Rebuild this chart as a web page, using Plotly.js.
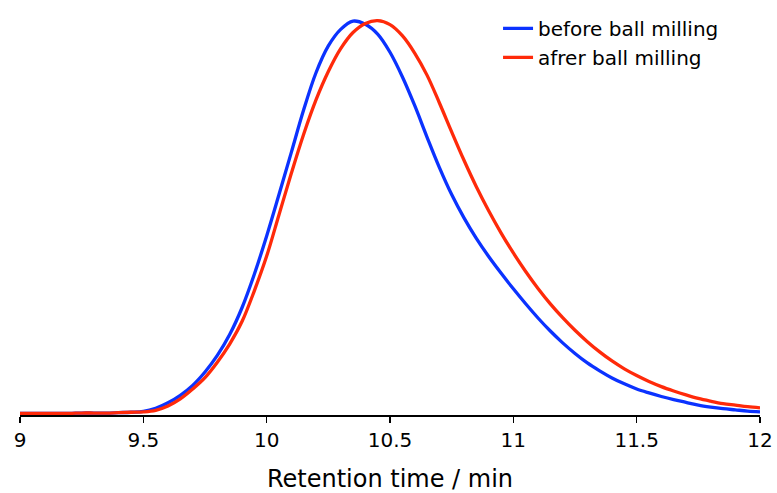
<!DOCTYPE html>
<html>
<head>
<meta charset="utf-8">
<script src="https://cdn.plot.ly/plotly-3.0.1.min.js"></script>
<style>html,body{margin:0;padding:0;background:#fff;}#chart{width:777px;height:493px;}</style>
</head>
<body>
<div id="chart"></div>
<script>
const retentionTime = [
  9.00, 9.05, 9.10, 9.15, 9.20, 9.25, 9.30, 9.35, 9.40, 9.45,
  9.50, 9.55, 9.60, 9.65, 9.70, 9.75, 9.80, 9.85, 9.90, 9.95,
  10.00, 10.05, 10.10, 10.15, 10.20, 10.25, 10.30, 10.35, 10.40, 10.45,
  10.50, 10.55, 10.60, 10.65, 10.70, 10.75, 10.80, 10.85, 10.90, 10.95,
  11.00, 11.05, 11.10, 11.15, 11.20, 11.25, 11.30, 11.35, 11.40, 11.45,
  11.50, 11.55, 11.60, 11.65, 11.70, 11.75, 11.80, 11.85, 11.90, 11.95, 12.00];

// Normalized detector response, before ball milling (blue)
const beforeSignal = [
  0.004, 0.004, 0.004, 0.004, 0.004, 0.005, 0.005, 0.005, 0.006, 0.007,
  0.009, 0.017, 0.031, 0.050, 0.075, 0.109, 0.151, 0.204, 0.272, 0.357,
  0.454, 0.559, 0.666, 0.774, 0.868, 0.936, 0.978, 0.999, 0.991, 0.966,
  0.920, 0.858, 0.785, 0.705, 0.628, 0.559, 0.500, 0.448, 0.402, 0.360,
  0.320, 0.282, 0.246, 0.213, 0.183, 0.156, 0.132, 0.112, 0.094, 0.079,
  0.066, 0.056, 0.047, 0.039, 0.032, 0.025, 0.020, 0.016, 0.013, 0.010, 0.008];

// Normalized detector response, after ball milling (red)
const afterSignal = [
  0.004, 0.004, 0.004, 0.004, 0.004, 0.005, 0.005, 0.005, 0.006, 0.007,
  0.008, 0.012, 0.023, 0.041, 0.066, 0.095, 0.134, 0.180, 0.237, 0.315,
  0.403, 0.508, 0.613, 0.712, 0.799, 0.871, 0.929, 0.970, 0.993, 1.000,
  0.990, 0.962, 0.918, 0.862, 0.792, 0.718, 0.646, 0.579, 0.518, 0.462,
  0.411, 0.364, 0.321, 0.282, 0.247, 0.215, 0.186, 0.160, 0.137, 0.117,
  0.100, 0.085, 0.072, 0.061, 0.051, 0.042, 0.035, 0.029, 0.025, 0.021, 0.018];

const seriesNames = ["before ball milling", "afrer ball milling"];
const xTicks = [9, 9.5, 10, 10.5, 11, 11.5, 12];
const xTickText = ["9", "9.5", "10", "10.5", "11", "11.5", "12"];

const FONT = "DejaVu Sans, Liberation Sans, Arial, sans-serif";

const traces = [
  {x: retentionTime, y: beforeSignal, name: seriesNames[0], mode: "lines",
   line: {color: "#0B32FF", width: 3.3, shape: "spline", smoothing: 1}},
  {x: retentionTime, y: afterSignal, name: seriesNames[1], mode: "lines",
   line: {color: "#FF2A0A", width: 3.3, shape: "spline", smoothing: 1}}
];

const layout = {
  width: 777, height: 493,
  margin: {l: 20, r: 17, t: 1, b: 78},
  paper_bgcolor: "#fff", plot_bgcolor: "#fff",
  font: {family: FONT, color: "#000"},
  showlegend: true,
  legend: {x: 0.646, y: 0.981, xanchor: "left", yanchor: "top",
    font: {family: FONT, size: 20, color: "#000"}, bgcolor: "rgba(0,0,0,0)", borderwidth: 0},
  xaxis: {range: [9, 12], tickmode: "array", tickvals: xTicks, ticktext: xTickText,
    ticks: "outside", ticklen: 6, tickwidth: 1.5, tickcolor: "#000",
    showline: true, linecolor: "#000", linewidth: 1.5, showgrid: false, zeroline: false,
    tickfont: {family: FONT, size: 20, color: "#000"},
    title: {text: "Retention time / min", font: {family: FONT, size: 24, color: "#000"}, standoff: 20}},
  yaxis: {range: [0, 1.05], visible: false, showgrid: false, zeroline: false, fixedrange: true}
};

Plotly.newPlot("chart", traces, layout, {displayModeBar: false, staticPlot: true});
</script>
</body>
</html>
